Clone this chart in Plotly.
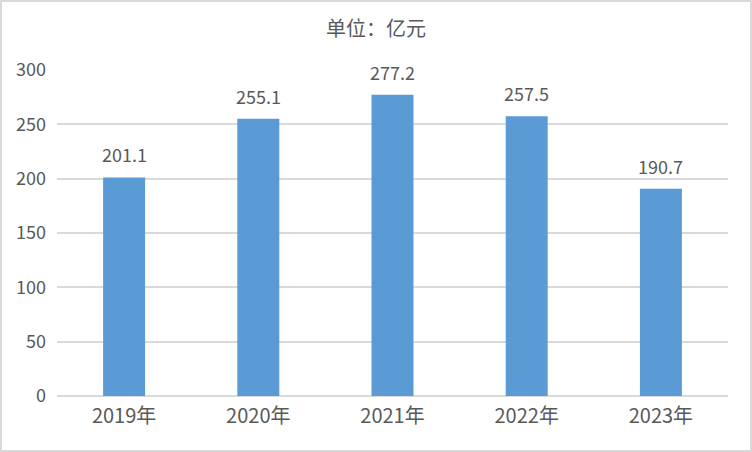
import plotly.graph_objects as go

categories = ["2019年", "2020年", "2021年", "2022年", "2023年"]
values = [201.1, 255.1, 277.2, 257.5, 190.7]
y_ticks = [0, 50, 100, 150, 200, 250, 300]

W, H = 752, 452
L, R, T, B = 57, 24, 70, 56
pw, ph = W - L - R, H - T - B

font_family = "Noto Sans CJK SC, Liberation Sans, sans-serif"
txt_color = "#595959"

fig = go.Figure(go.Bar(
    x=categories, y=values,
    marker=dict(color="#5B9BD5", line=dict(width=0)),
    hoverinfo="x+y",
))

for c, v in zip(categories, values):
    fig.add_annotation(x=c, y=v, text=f"{v:.1f}", showarrow=False,
                       xanchor="center", yanchor="middle", yshift=23,
                       font=dict(size=18, color=txt_color, family=font_family))

fig.update_layout(
    width=W, height=H,
    margin=dict(l=L, r=R, t=T, b=B),
    paper_bgcolor="white", plot_bgcolor="white",
    bargap=0.687,
    showlegend=False,
    font=dict(family=font_family, color=txt_color, size=17),
    title=dict(text="单位：亿元", x=0.5, xanchor="center", y=1 - 29 / H, yanchor="middle",
               font=dict(size=20, color=txt_color, family=font_family)),
    xaxis=dict(showgrid=False, showline=False, ticks="", zeroline=False,
               ticklabelstandoff=6,
               tickfont=dict(size=20, color=txt_color)),
    yaxis=dict(range=[0, 300], tickvals=y_ticks, showgrid=True, gridcolor="#D9D9D9", gridwidth=1.5,
               zeroline=True, zerolinecolor="#D9D9D9", zerolinewidth=1.5,
               showline=False, ticks="", ticklabelstandoff=10,
               tickfont=dict(size=18, color=txt_color)),
)

# outer border of the chart
fig.add_shape(type="rect", xref="paper", yref="paper",
              x0=-(L - 1) / pw, x1=1 + (R - 1) / pw,
              y0=-(B - 1) / ph, y1=1 + (T - 1) / ph,
              line=dict(color="#D9D9D9", width=2), fillcolor="rgba(0,0,0,0)", layer="below")

fig.write_html("out.html", config={"displayModeBar": False},
               post_script="document.body.style.margin='0';document.body.style.overflow='hidden';")
